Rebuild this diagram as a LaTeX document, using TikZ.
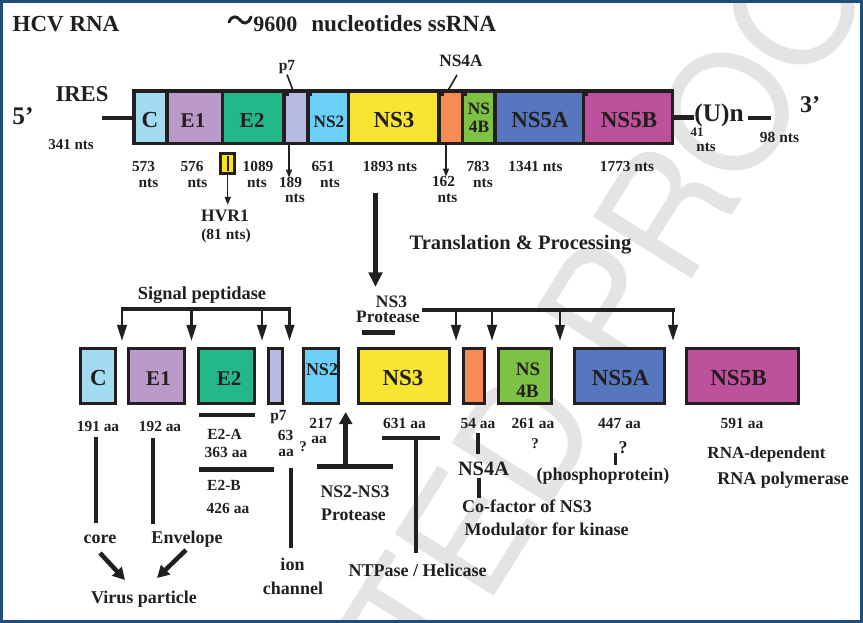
\documentclass[tikz,border=0pt]{standalone}
\usepackage{fontspec}
\setmainfont{Liberation Serif}
\newfontfamily\wmfont{TeX Gyre Heros}
\usetikzlibrary{arrows.meta}
\definecolor{ink}{HTML}{231F20}
\definecolor{framec}{HTML}{1F4E79}
\definecolor{cC}{HTML}{A3DCF1}
\definecolor{cE1}{HTML}{B99AC9}
\definecolor{cE2}{HTML}{23B78A}
\definecolor{cP7}{HTML}{B8BBE1}
\definecolor{cNS2}{HTML}{6BCFF6}
\definecolor{cNS3}{HTML}{F7E532}
\definecolor{cNS4A}{HTML}{F68B53}
\definecolor{cNS4B}{HTML}{7DC244}
\definecolor{cNS5A}{HTML}{5676BE}
\definecolor{cNS5B}{HTML}{BE519C}
\definecolor{cHVR}{HTML}{F2E51C}
\definecolor{wmc}{HTML}{E4E4E4}
\tikzset{
  lbl/.style={inner sep=0pt, anchor=base, text=ink, font=\bfseries\fontsize{#1}{#1}\selectfont},
  wmtext/.style={inner sep=0pt, text=wmc, font=\wmfont\fontsize{120}{120}\selectfont},
  ln/.style={draw=ink, line width=#1},
  pbox/.style={draw=ink, line width=2.6pt, inner sep=0pt, minimum height=54.5*0.75pt},
  sarr/.style={draw=ink, line width=2pt, -{Triangle[width=7pt,length=12pt]}},
  tarr/.style={draw=ink, line width=1.1pt, -{Triangle[width=4.5pt,length=6pt]}},
  barr/.style={draw=ink, line width=3.75pt, -{Triangle[width=10pt,length=11pt]}},
  parr/.style={draw=ink, line width=3.4pt, -{Triangle[width=9.5pt,length=9pt]}},
}
\begin{document}
\begin{tikzpicture}[x=0.75pt,y=-0.75pt]
\useasboundingbox (0,0) rectangle (863,623);
\fill[white] (0,0) rectangle (863,623);
% watermark
\begin{scope}
\clip (0,0) rectangle (863,623);
\node[wmtext, anchor=base west, rotate=58] (wmP) at (628,381.8) {PROOF};
\node[wmtext, anchor=base east, rotate=58] (wmU) at (604.4,419.5) {UNCORRECTED};
\end{scope}

% title
\node[lbl=17.25] (title) at (66,32) {HCV RNA};
\draw[ink, line width=2.2pt, line cap=round] (229,22) .. controls (232,15) and (237,16) .. (240,20) .. controls (243,24) and (248,25) .. (251,17);
\node[lbl=16.5, anchor=base west] (len) at (253,32) {9600};
\node[lbl=17.4, anchor=base west] (ssrna) at (311,32) {nucleotides ssRNA};

% genome bar
\fill[ink] (132,89.5) rectangle (674,145.5);
\foreach \a/\b/\c in {135.5/165/cC, 168.5/221/cE1, 224/282/cE2, 286/306/cP7, 310/347/cNS2, 350/437/cNS3, 441/461/cNS4A, 464/493/cNS4B, 497/582/cNS5A, 585/671/cNS5B}
  \fill[\c] (\a,93) rectangle (\b,142);
\foreach \x in {286,309,441,464,585}
  \fill[ink] (\x,93) rectangle ++(2.5,3);
\node[lbl=17.25] (tC) at (150,128) {C};
\node[lbl=15.75] (tE1) at (193,128) {E1};
\node[lbl=16] (tE2) at (252,128) {E2};
\node[lbl=13] (tNS2) at (329,128) {NS2};
\node[lbl=17.25] (tNS3) at (394,128) {NS3};
\node[lbl=13] (tNSa) at (479,115) {NS};
\node[lbl=13] (tNSb) at (479,133) {4B};
\node[lbl=17.25] (tNS5A) at (540,128) {NS5A};
\node[lbl=17.25] (tNS5B) at (629,128) {NS5B};

% ends of the RNA
\node[lbl=19] (five) at (23,125) {5’};
\node[lbl=17] (ires) at (82,102) {IRES};
\node[lbl=11.25] (n341) at (71,150) {341 nts};
\coordinate (lineL) at (102,118);
\coordinate (barL) at (132,118);
\draw[ln=3pt] (lineL) -- (barL);
\coordinate (barR) at (674,117.5);
\node[lbl=19] (un) at (719,122) {(U)n};
\draw[ln=3.4pt] (barR) -- (un.west |- barR);
\coordinate (tailA) at (748,118);
\coordinate (tailB) at (771,118);
\draw[ln=3.4pt] (tailA) -- (tailB);
\node[lbl=18] (three) at (810,113) {3’};
\node[lbl=9.75] (n41) at (697,137) {41};
\node[lbl=11.25] (n41b) at (706,152) {nts};
\node[lbl=11.6] (n98) at (779.5,143) {98 nts};

% p7 and NS4A pointers
\node[lbl=11.6] (p7t) at (287,71) {p7};
\coordinate (p7top) at (293,90.5);
\draw[ink, line width=1.2pt] (p7t.south) -- (p7top);
\node[lbl=13] (ns4at) at (461,67) {NS4A};
\coordinate (ns4aptr) at (457,75);
\coordinate (ns4atop) at (448,90.5);
\draw[ink, line width=1.2pt] (ns4aptr) -- (ns4atop);

% lengths
\node[lbl=11.5] (l573) at (143.5,172) {573};
\node[lbl=11.5] (l573b) at (148.5,188) {nts};
\node[lbl=11.5] (l576) at (192,172) {576};
\node[lbl=11.5] (l576b) at (197.5,188) {nts};
\node[lbl=11.5] (l1089) at (258,172) {1089};
\node[lbl=11.5] (l1089b) at (257,188) {nts};
\node[lbl=11.5] (l189) at (290.5,188) {189};
\node[lbl=11.5] (l189b) at (295,203) {nts};
\node[lbl=11.5] (l651) at (323,172) {651};
\node[lbl=11.5] (l651b) at (330,188) {nts};
\node[lbl=11.5] (l1893) at (390,172) {1893 nts};
\node[lbl=11.5] (l162) at (443.5,187) {162};
\node[lbl=11.5] (l162b) at (447.5,203) {nts};
\node[lbl=11.5] (l783) at (478,172) {783};
\node[lbl=11.5] (l783b) at (483,188) {nts};
\node[lbl=11.5] (l1341) at (535.5,172) {1341 nts};
\node[lbl=11.5] (l1773) at (627,172) {1773 nts};
\coordinate (p7b) at (289,145.5);
\draw[tarr] (p7b) -- (p7b |- l189.north);
\coordinate (ns4ab) at (446,145.5);
\draw[tarr] (ns4ab) -- (ns4ab |- l162.north);

% HVR1
\node[draw=ink, fill=cHVR, line width=2.25pt, inner sep=0pt, minimum width=14*0.75pt, minimum height=20.5*0.75pt] (hvrbox) at (227.75,163.5) {};
\draw[ink, line width=1.5pt] ([yshift=-3pt]hvrbox.north) -- ([yshift=3pt]hvrbox.south);
\node[lbl=13.1] (hvr) at (225,222) {HVR1};
\node[lbl=11.6] (hvrn) at (226,240) {(81 nts)};
\draw[tarr, shorten >=4pt] (hvrbox.south) -- (hvrbox.south |- hvr.north);

% translation arrow
\coordinate (ma1) at (375.5,193);
\coordinate (ma2) at (375.5,287);
\draw[barr] (ma1) -- (ma2);
\node[lbl=15.4] (trans) at (520.5,250) {Translation \& Processing};

% signal peptidase
\node[lbl=13.8] (sigp) at (202,300) {Signal peptidase};
\coordinate (spL) at (120.5,309.5);
\coordinate (spR) at (291,309.5);
\draw[ln=3pt] (spL) -- (spR);
\foreach \x [count=\i] in {122,191.5,262,289.5} {
  \coordinate (spa\i) at (\x,309.5);
  \coordinate (spb\i) at (\x,341);
  \draw[sarr] (spa\i) -- (spb\i);
}

% NS3 protease
\node[lbl=13.1] (pns3) at (391.5,308) {NS3};
\node[lbl=13.1] (pprot) at (388,323) {Protease};
\coordinate (pbarL) at (362,332.5);
\coordinate (pbarR) at (395,332.5);
\draw[ln=3.75pt] (pbarL) -- (pbarR);
\coordinate (npL) at (422,310);
\coordinate (npR) at (674.5,310);
\draw[ln=3pt] (npL) -- (npR);
\foreach \x [count=\i] in {456,492,560,673} {
  \coordinate (npa\i) at (\x,310);
  \coordinate (npb\i) at (\x,341);
  \draw[sarr] (npa\i) -- (npb\i);
}

% protein boxes
\node[pbox, fill=cC, minimum width=34.5*0.75pt] (bC) at (98,376) {};
\node[pbox, fill=cE1, minimum width=55.5*0.75pt] (bE1) at (156.5,376) {};
\node[pbox, fill=cE2, minimum width=55.5*0.75pt] (bE2) at (226.5,376) {};
\node[pbox, fill=cP7, minimum width=13.5*0.75pt] (bP7) at (275.5,376) {};
\node[pbox, fill=cNS2, minimum width=34.5*0.75pt] (bNS2) at (321,376) {};
\node[pbox, fill=cNS3, minimum width=90.5*0.75pt] (bNS3) at (404,376) {};
\node[pbox, fill=cNS4A, minimum width=20.5*0.75pt] (bNS4A) at (474,376) {};
\node[pbox, fill=cNS4B, minimum width=52.5*0.75pt] (bNS4B) at (525,376) {};
\node[pbox, fill=cNS5A, minimum width=89.5*0.75pt] (bNS5A) at (619.5,376) {};
\node[pbox, fill=cNS5B, minimum width=111.5*0.75pt] (bNS5B) at (742.5,376) {};
\node[lbl=17.25] (xC) at (98.5,385) {C};
\node[lbl=15.75] (xE1) at (158.5,385) {E1};
\node[lbl=15.75] (xE2) at (229,385) {E2};
\node[lbl=13.5] (xNS2) at (322,375) {NS2};
\node[lbl=17.25] (xNS3) at (403,385) {NS3};
\node[lbl=14.25] (xNSa) at (528,375) {NS};
\node[lbl=14.25] (xNSb) at (527.5,397) {4B};
\node[lbl=17.25] (xNS5A) at (620.5,385) {NS5A};
\node[lbl=17.25] (xNS5B) at (738.5,385) {NS5B};

% annotations under the proteins
\node[lbl=11.5] (a191) at (98,431) {191 aa};
\node[lbl=11.5] (a192) at (160,431) {192 aa};
\coordinate (e2aL) at (199,415);
\coordinate (e2aR) at (255,415);
\draw[ln=3pt] (e2aL) -- (e2aR);
\node[lbl=11.6] (p7l) at (278.5,420) {p7};
\node[lbl=11.6] (e2a) at (224.5,439) {E2-A};
\node[lbl=11.6] (a363) at (226,457) {363 aa};
\node[lbl=11.6] (a63) at (285.5,440) {63};
\node[lbl=11.6] (a63b) at (286,456) {aa};
\node[lbl=11.25] (q63) at (303,451) {?};
\node[lbl=11.6] (a217) at (321,428) {217};
\node[lbl=11.6] (a217b) at (319,443) {aa};
\coordinate (upA) at (345.7,466.5);
\coordinate (upB) at (345.7,412);
\draw[parr] (upA) -- (upB);
\coordinate (n23L) at (317,466.5);
\coordinate (n23R) at (393,466.5);
\draw[ln=3.75pt] (n23L) -- (n23R);
\node[lbl=13.3] (ns23) at (355,497) {NS2-NS3};
\node[lbl=13.3] (ns23p) at (353.5,520) {Protease};
\node[lbl=11.6] (a631) at (404.5,428) {631 aa};
\coordinate (ntL) at (382,438);
\coordinate (ntR) at (440,438);
\draw[ln=3.4pt] (ntL) -- (ntR);
\coordinate (ntT) at (415.5,438);
\coordinate (ntB) at (415.5,553);
\draw[ln=3pt] (ntT) -- (ntB);
\node[lbl=13.5] (ntp) at (417.5,576) {NTPase / Helicase};
\coordinate (e2bL) at (199,469.5);
\coordinate (e2bR) at (274,469.5);
\draw[ln=3.75pt] (e2bL) -- (e2bR);
\node[lbl=11.6] (e2b) at (224,490) {E2-B};
\node[lbl=11.6] (a426) at (228,513) {426 aa};
\coordinate (ionT) at (291,468);
\coordinate (ionB) at (291,548);
\draw[ln=3pt] (ionT) -- (ionB);
\node[lbl=13.5] (ion) at (292.5,570) {ion};
\node[lbl=13.5] (chan) at (293,594) {channel};
\coordinate (coreT) at (95.7,437);
\coordinate (coreB) at (95.7,523);
\draw[ln=3pt] (coreT) -- (coreB);
\node[lbl=13.5] (core) at (100,543) {core};
\coordinate (envT) at (152.5,438);
\coordinate (envB) at (152.5,524);
\draw[ln=3pt] (envT) -- (envB);
\node[lbl=13.5] (env) at (187,543) {Envelope};
\node[lbl=13.5] (virus) at (144,603) {Virus particle};
\coordinate (carA) at (100,553);
\coordinate (carB) at (125,580);
\draw[parr] (carA) -- (carB);
\coordinate (earA) at (186,550);
\coordinate (earB) at (157,578);
\draw[parr] (earA) -- (earB);

\node[lbl=11.6] (a54) at (478,428) {54 aa};
\coordinate (v54a) at (478,433);
\coordinate (v54b) at (478,454);
\draw[ln=3pt] (v54a) -- (v54b);
\node[lbl=15.3] (ns4al) at (483.5,475) {NS4A};
\coordinate (v4aa) at (479,478);
\coordinate (v4ab) at (479,498);
\draw[ln=3pt] (v4aa) -- (v4ab);
\node[lbl=13.5] (cof) at (527,512) {Co-factor of NS3};
\node[lbl=13.5] (mod) at (546.5,535) {Modulator for kinase};
\node[lbl=11.6] (a261) at (533,428) {261 aa};
\node[lbl=11.25] (q261) at (535,448) {?};
\node[lbl=11.6] (a447) at (619.5,428) {447 aa};
\node[lbl=13.5] (q447) at (623,453) {?};
\coordinate (v447a) at (615.5,453);
\coordinate (v447b) at (615.5,465);
\draw[ln=2.25pt] (v447a) -- (v447b);
\node[lbl=13.5] (phos) at (603,480) {(phosphoprotein)};
\node[lbl=11.6] (a591) at (742,428) {591 aa};
\node[lbl=12.75] (rdep) at (766.5,458) {RNA-dependent};
\node[lbl=13.5] (rpol) at (783,484) {RNA polymerase};

% frame
\draw[framec, line width=2.6pt] (1.7,1.7) rectangle (861.3,621.3);
\end{tikzpicture}
\end{document}
